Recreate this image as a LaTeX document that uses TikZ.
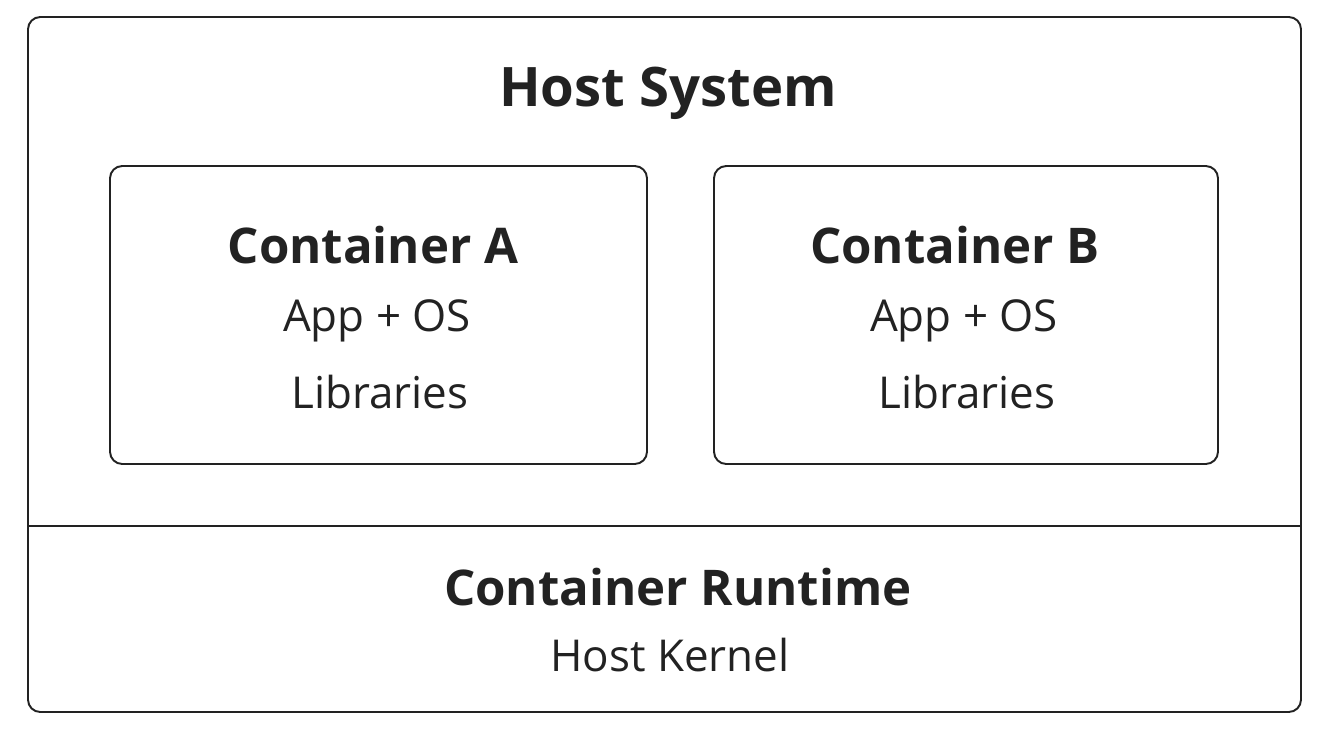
\documentclass[tikz,border=0pt]{standalone}
\usepackage{fontspec}
\setmainfont{Open Sans}
\definecolor{ink}{RGB}{34,34,34}

\begin{document}
\begin{tikzpicture}[x=0.02cm, y=-0.02cm,
    box/.style={draw=ink, line width=1.1pt, rounded corners=7pt},
    title/.style={text=ink, font=\fontsize{31}{36}\selectfont\bfseries},
    ctitle/.style={text=ink, font=\fontsize{28}{33}\selectfont\bfseries},
    label/.style={text=ink, font=\fontsize{25}{30}\selectfont}
]
\useasboundingbox (0,0) rectangle (1329,734);

% Host system and runtime layer
\draw[box] (28,17) rectangle (1301,712);
\coordinate (L) at (28,526);
\coordinate (R) at (1301,526);
\draw[draw=ink, line width=1.1pt] (L) -- (R);

\node[title] (host) at (668,93) {Host System};

% Containers
\draw[box] (110,166) rectangle (647,464);
\draw[box] (714,166) rectangle (1218,464);

\node[ctitle] (A-1) at (373,245) {Container A};
\node[label] (A-2) at (377,321) {App + OS};
\node[label] (A-3) at (380,392) {Libraries};

\node[ctitle] (B-1) at (955,245) {Container B};
\node[label] (B-2) at (964,321) {App + OS};
\node[label] (B-3) at (967,392) {Libraries};

% Runtime
\node[ctitle] (runtime) at (678,587) {Container Runtime};
\node[label] (kernel) at (670,655) {Host Kernel};

\end{tikzpicture}
\end{document}
